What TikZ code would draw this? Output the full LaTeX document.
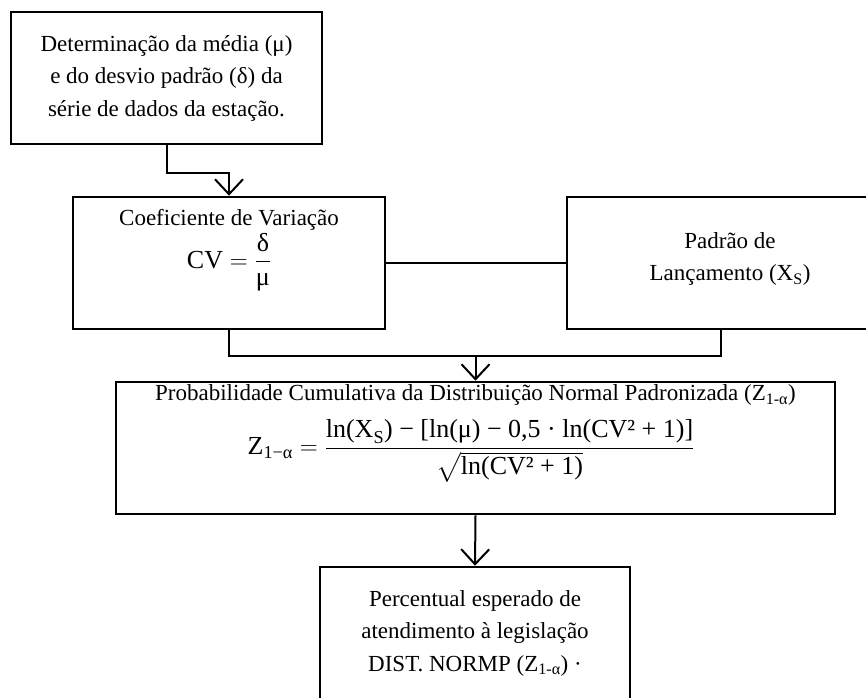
\documentclass[tikz,border=0pt]{standalone}
\usepackage{amsmath}
\usepackage{fontspec}
\setmainfont{Liberation Serif}
\usetikzlibrary{arrows.meta}
\tikzset{
  box/.style={draw, line width=2.6pt, rectangle, inner sep=0pt},
  txt/.style={align=center, inner sep=0pt, font=\fontsize{23}{32.5}\selectfont},
  mth/.style={inner sep=0pt, font=\fontsize{26}{32}\selectfont},
  conn/.style={line width=2pt},
  arr/.style={conn, -{Straight Barb[length=15pt,width=28pt,line width=2pt]}},
}
\begin{document}
\begin{tikzpicture}[x=1pt,y=-1pt]
\useasboundingbox (0,0) rectangle (866,697);
\clip (0,0) rectangle (866,697);
% boxes
\node[box, minimum width=311pt, minimum height=132pt, txt] (b1) at (166.5,78)
  {Determinação da média (μ)\\ e do desvio padrão (δ) da\\ série de dados da estação.};
\node[box, minimum width=312pt, minimum height=132pt] (b2) at (229,263) {};
\node[txt] (t2) at (229,220) {Coeficiente de Variação};
\node[mth] (f2) at (229,262) {$\text{CV} = \dfrac{\text{δ}}{\text{μ}}$};
\node[box, minimum width=308pt, minimum height=132pt] (xs) at (721,263) {};
\node[txt] (txs) at (730,259) {Padrão de\\ Lançamento (X\textsubscript{S})};
\node[box, minimum width=719pt, minimum height=132pt] (b3) at (475.5,448) {};
\node[txt] (t3) at (475.5,395)
  {Probabilidade Cumulativa da Distribuição Normal Padronizada (Z\textsubscript{1-α})};
\node[mth] (f3) at (471,451)
  {$\text{Z}_{\text{1−α}} = \dfrac{\text{ln(X}_{\text{S}}\text{) − [ln(μ) − 0,5 · ln(CV² + 1)]}}{\sqrt{\text{ln(CV² + 1)}}}$};
\node[box, minimum width=310pt, minimum height=132pt, txt] (b4) at (475,633)
  {Percentual esperado de\\ atendimento à legislação\\ DIST. NORMP (Z\textsubscript{1-α}) ·};
% connectors
\draw[arr] (b1.south) -- ++(0,28) -| (b2.north);
\draw[conn] (b2.east) -- (xs.west);
\coordinate (j) at (475.5,356);
\draw[conn] (b2.south) |- (j) -| (xs.south);
\draw[arr] (j) -- (b3.north);
\draw[arr] (b3.south) -- (b4.north);
\end{tikzpicture}
\end{document}
